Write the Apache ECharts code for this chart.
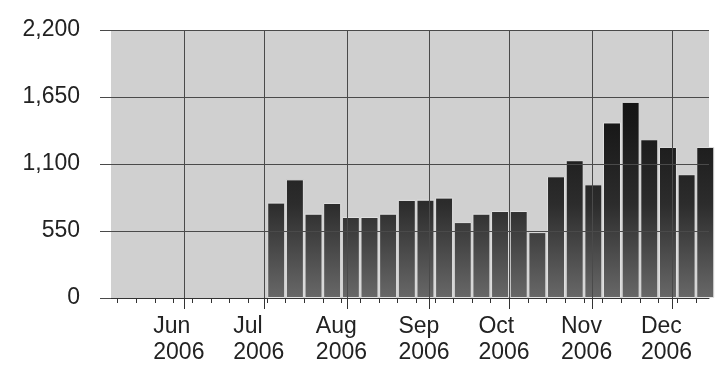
<!DOCTYPE html>
<html><head><meta charset="utf-8">
<script src="https://cdn.jsdelivr.net/npm/echarts@6/dist/echarts.min.js"></script>
<style>html,body{margin:0;padding:0;background:#fff}#c{width:715px;height:372px}</style>
</head><body><div id="c"></div>
<script>
// ---- data ----
const weekStarts = ['2006-07-02','2006-07-09','2006-07-16','2006-07-23','2006-07-30','2006-08-06','2006-08-13','2006-08-20','2006-08-27','2006-09-03','2006-09-10','2006-09-17','2006-09-24','2006-10-01','2006-10-08','2006-10-15','2006-10-22','2006-10-29','2006-11-05','2006-11-12','2006-11-19','2006-11-26','2006-12-03','2006-12-10'];
const visits = [783, 974, 692, 780, 665, 665, 692, 805, 807, 824, 623, 692, 714, 714, 541, 999, 1131, 933, 1441, 1610, 1303, 1240, 1016, 1240];
const monthStarts = ['2006-06-01','2006-07-01','2006-08-01','2006-09-01','2006-10-01','2006-11-01','2006-12-01'];
const monthNames = ['Jan','Feb','Mar','Apr','May','Jun','Jul','Aug','Sep','Oct','Nov','Dec'];
const yTicks = [0, 550, 1100, 1650, 2200];
const axisStart = '2006-05-04';
const axisEnd = '2006-12-15';

// days since Sunday 1970-01-04 (multiples of 7 are Sundays)
function dayOf(s){ const p = s.split('-').map(Number); return Date.UTC(p[0], p[1]-1, p[2]) / 86400000 - 3; }
function dateOf(n){ return new Date((n + 3) * 86400000); }

const xMin = dayOf(axisStart) + 0.5;
const xMax = dayOf(axisEnd) - 0.1;
const sundays = [];
for (let d = Math.ceil(xMin / 7) * 7; d <= xMax; d += 7) sundays.push(d);
const monthDays = monthStarts.map(dayOf);
const barData = weekStarts.map((w, i) => [dayOf(w) + 3.5, visits[i]]);

const FONT = 'Liberation Sans';
const GRID_C = '#4a4a4a';

const chart = echarts.init(document.getElementById('c'));
chart.setOption({
  animation: false,
  grid: { left: 111, right: 6, top: 30, bottom: 74, show: true, backgroundColor: '#d0d0d0', borderWidth: 0 },
  xAxis: [
    {
      type: 'value', min: xMin, max: xMax, position: 'bottom', z: 4,
      axisLine: { show: true, lineStyle: { color: '#333', width: 1 } },
      axisTick: { show: true, customValues: sundays, length: 5, lineStyle: { color: '#333' } },
      axisLabel: { show: false },
      splitLine: { show: false }
    },
    {
      type: 'value', min: xMin, max: xMax, position: 'bottom', z: 4,
      axisLine: { show: false },
      axisTick: { show: true, customValues: monthDays, length: 11, lineStyle: { color: '#333' } },
      axisLabel: {
        show: true, customValues: monthDays, margin: 16, padding: [0, 11, 0, 0],
        formatter: function (v) {
          const d = dateOf(v);
          return '{m|' + monthNames[d.getUTCMonth()] + '}\n{m|' + d.getUTCFullYear() + '}';
        },
        rich: { m: { width: 51, align: 'left', fontSize: 23, lineHeight: 26, fontFamily: FONT, color: '#222' } }
      },
      splitLine: { show: true, lineStyle: { color: GRID_C, width: 1 } }
    }
  ],
  yAxis: {
    type: 'value', min: yTicks[0], max: yTicks[yTicks.length - 1], interval: yTicks[1] - yTicks[0], z: 4,
    axisLine: { show: false },
    axisTick: { show: true, length: 11, lineStyle: { color: GRID_C } },
    axisLabel: {
      margin: 31, fontSize: 23, fontFamily: FONT, color: '#222', padding: [6, 0, 0, 0],
      formatter: v => v.toLocaleString('en-US')
    },
    splitLine: { show: true, lineStyle: { color: GRID_C, width: 1 } }
  },
  series: [{
    type: 'bar', xAxisIndex: 0, data: barData, barWidth: 18, z: 2,
    itemStyle: {
      color: new echarts.graphic.LinearGradient(0, 30, 0, 298, [
        { offset: 0, color: '#0c0c0c' },
        { offset: 0.35, color: '#181818' },
        { offset: 0.65, color: '#2c2c2c' },
        { offset: 1, color: '#686868' }
      ], true),
      borderColor: '#e2e2e2', borderWidth: 1
    }
  }]
});
</script></body></html>
